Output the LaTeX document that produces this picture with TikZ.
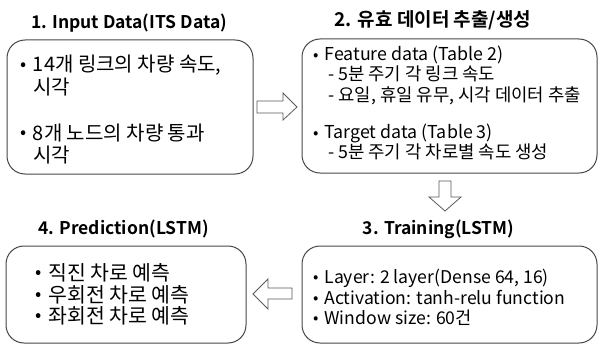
\documentclass[tikz,border=0pt]{standalone}
\usepackage{fontspec}
\setmainfont{Noto Sans CJK KR}[BoldFont={Noto Sans CJK KR Bold}]
\newcommand\bdot{\raisebox{0.05em}{\scalebox{0.9}{•}}}
\begin{document}
\begin{tikzpicture}[x=1pt,y=-1pt,
  box/.style={draw=black!72,line width=1pt,rounded corners=18pt,inner sep=0pt},
  ttl/.style={anchor=base,font=\fontsize{17.5}{17.5}\selectfont\bfseries,inner sep=0pt},
  ttlk/.style={anchor=base,font=\fontsize{19}{19}\selectfont\bfseries,inner sep=0pt},
  lineA/.style={anchor=base west,font=\fontsize{20}{20}\selectfont,inner sep=0pt},
  lineB/.style={anchor=base west,font=\fontsize{17.8}{17.8}\selectfont,inner sep=0pt},
  lineC/.style={anchor=base west,font=\fontsize{17.6}{17.6}\selectfont,inner sep=0pt},
  lineD/.style={anchor=base west,font=\fontsize{20.5}{20.5}\selectfont,inner sep=0pt},
  barrow/.style={draw=black!65,line width=0.8pt,fill=white,line join=miter}]
\useasboundingbox (0,0) rectangle (598,345);
% boxes
\node[box,minimum width=246pt,minimum height=134pt] (b1) at (130,107) {};
\node[box,minimum width=295pt,minimum height=134pt] (b2) at (449.5,106) {};
\node[box,minimum width=295pt,minimum height=97pt] (b3) at (449.5,294.5) {};
\node[box,minimum width=240pt,minimum height=97pt] (b4) at (126,294.5) {};
% titles
\node[ttl] (h1) at (129,29) {1. Input Data(ITS Data)};
\node[ttlk] (h2) at (433,27) {2. 유효 데이터 추출/생성};
\node[ttl] (h3) at (438.5,234) {3. Training(LSTM)};
\node[ttl] (h4) at (123.5,234) {4. Prediction(LSTM)};
% box 1 text
\node[lineA] (t1a) at (20,72) {\bdot\,\,14개 링크의 차량 속도,};
\node[lineA] (t1b) at (33,95) {시각};
\node[lineA] (t1c) at (20,140) {\bdot\,\,8개 노드의 차량 통과};
\node[lineA] (t1d) at (33,162) {시각};
% box 2 text
\node[lineB] (t2a) at (313,61) {\bdot\,\,Feature data (Table 2)};
\node[lineB] (t2b) at (328,81) {- 5분 주기 각 링크 속도};
\node[lineB] (t2c) at (328,102) {- 요일, 휴일 유무, 시각 데이터 추출};
\node[lineB] (t2d) at (313,139) {\bdot\,\,Target data (Table 3)};
\node[lineB] (t2e) at (328,159) {- 5분 주기 각 차로별 속도 생성};
% box 3 text
\node[lineC] (t3a) at (313,283) {\bdot\,\,Layer: 2 layer(Dense 64, 16)};
\node[lineC] (t3b) at (313,304) {\bdot\,\,Activation: tanh-relu function};
\node[lineC] (t3c) at (313,324) {\bdot\,\,Window size: 60건};
% box 4 text
\node[lineD] (t4a) at (35,280) {\bdot\,\,직진 차로 예측};
\node[lineD] (t4b) at (35,302) {\bdot\,\,우회전 차로 예측};
\node[lineD] (t4c) at (35,323) {\bdot\,\,좌회전 차로 예측};
% block arrows
\draw[barrow] (257,101) -- (283,101) -- (283,93) -- (297,107) -- (283,120) -- (283,113) -- (257,113) -- cycle;
\draw[barrow] (439,181) -- (451,181) -- (451,197) -- (461,197) -- (445,211) -- (429,197) -- (439,197) -- cycle;
\draw[barrow] (292,288) -- (268,288) -- (268,279) -- (253,294) -- (268,309) -- (268,299) -- (292,299) -- cycle;
\end{tikzpicture}
\end{document}
